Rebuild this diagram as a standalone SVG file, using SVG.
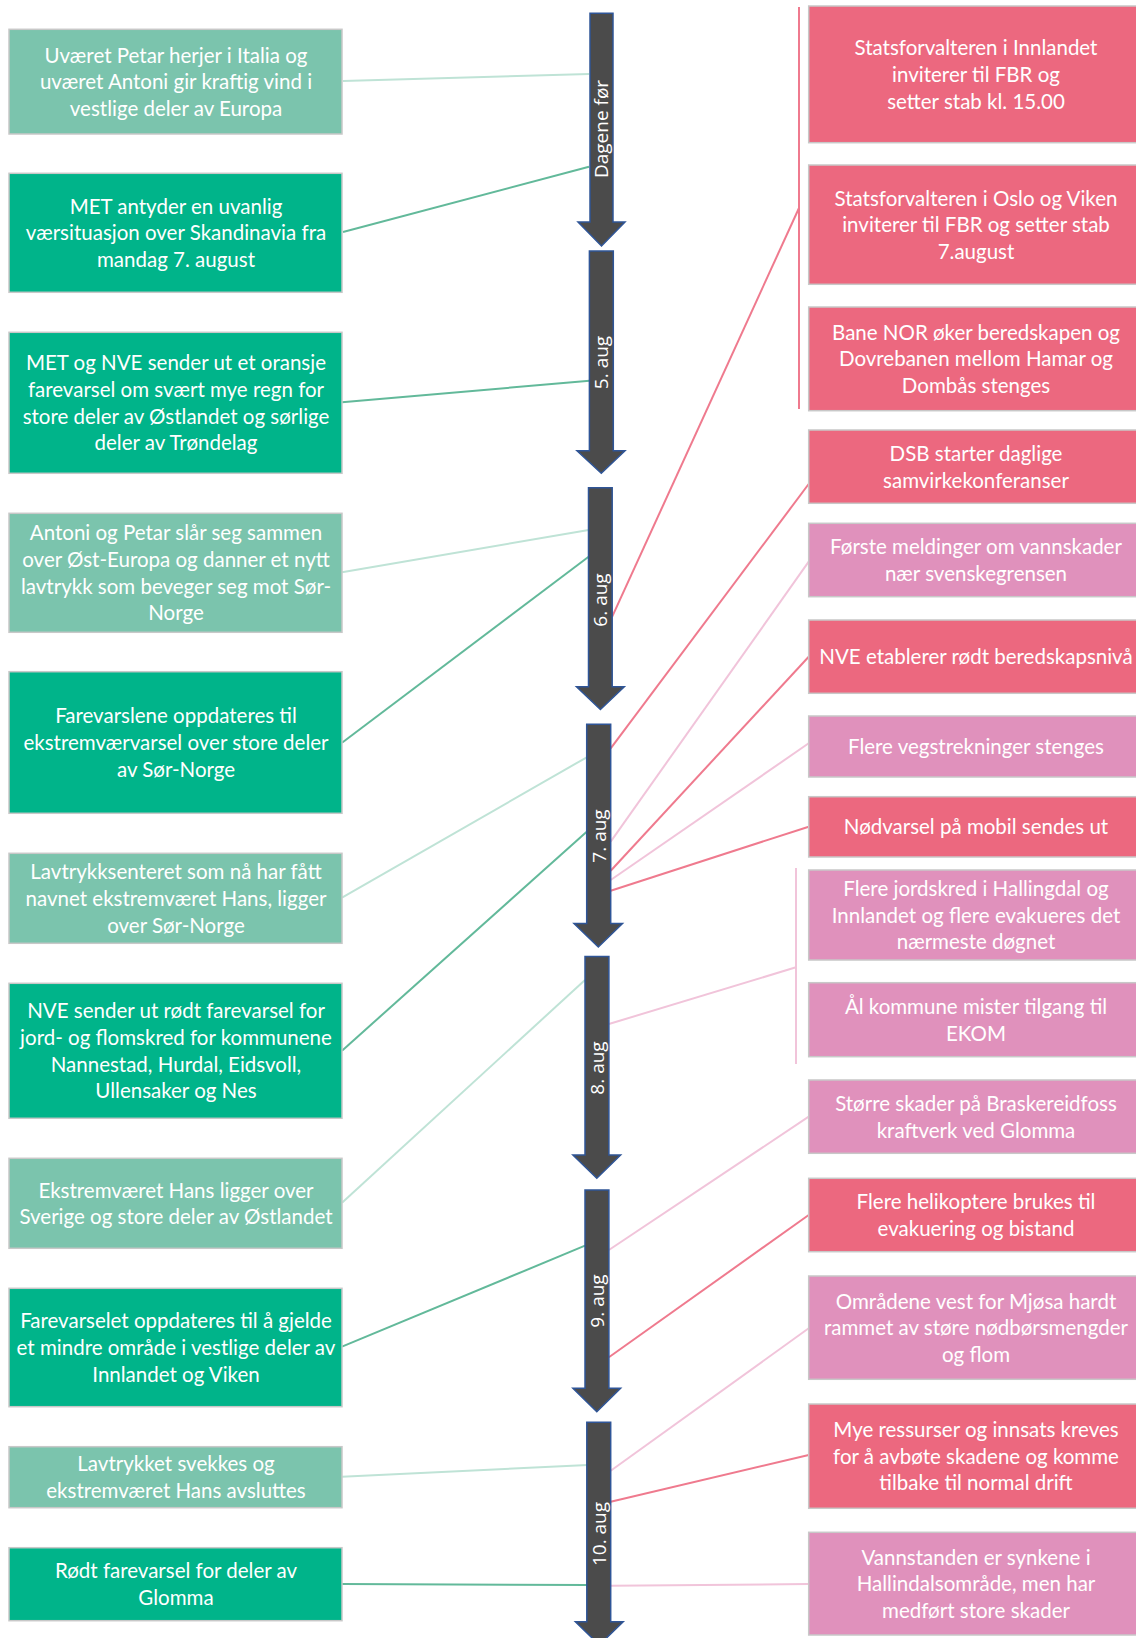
<svg xmlns="http://www.w3.org/2000/svg" width="1136" height="1638" viewBox="0 0 1136 1638">
<style>
.box{stroke:#C8C8C8;stroke-width:1.5}
.dg{fill:#00B48A}.lg{fill:#7BC4AD}.rd{fill:#EC687F}.pk{fill:#E091BC}
.bt{font-family:Lato,"Liberation Sans",sans-serif;font-size:20.5px;fill:#FFFFFF;text-anchor:middle}
.arrow{fill:#4B4B4B;stroke:#2F5597;stroke-width:1.5;stroke-linejoin:miter}
.at{font-family:"Open Sans","DejaVu Sans",sans-serif;font-size:19px;fill:#FFFFFF;text-anchor:middle}
.c{fill:none;stroke-width:2}
.cg{stroke:#62B99A}.clg{stroke:#BFE3D6}.cr{stroke:#EF7A8E}.cp{stroke:#F1C4DA}
</style>
<rect width="1136" height="1638" fill="#FFFFFF"/>
<g id="connectors">
<line class="c clg" x1="343" y1="81" x2="589" y2="74"/>
<line class="c cg" x1="343" y1="232" x2="589" y2="166.7"/>
<line class="c cg" x1="342" y1="402.3" x2="589.5" y2="380.7"/>
<line class="c clg" x1="342" y1="572.3" x2="588.6" y2="530"/>
<line class="c cg" x1="342" y1="742.7" x2="588.6" y2="556.7"/>
<line class="c clg" x1="342" y1="897.7" x2="586.7" y2="757.3"/>
<line class="c cg" x1="342" y1="1050.7" x2="586.7" y2="831.7"/>
<line class="c clg" x1="342" y1="1202.7" x2="585" y2="980"/>
<line class="c cg" x1="342" y1="1346.7" x2="585" y2="1245.7"/>
<line class="c clg" x1="342" y1="1476.7" x2="587.8" y2="1465"/>
<line class="c cg" x1="342" y1="1584" x2="587.8" y2="1585"/>
<line class="c cr" x1="799" y1="7" x2="799" y2="409"/>
<line class="c cr" x1="799" y1="208" x2="612.2" y2="616.7"/>
<line class="c cr" x1="808.7" y1="484" x2="610.7" y2="748.3"/>
<line class="c cp" x1="808.7" y1="561.7" x2="610.7" y2="841.7"/>
<line class="c cr" x1="808.7" y1="656.7" x2="610.7" y2="870.7"/>
<line class="c cp" x1="808.7" y1="743.3" x2="610.7" y2="880"/>
<line class="c cr" x1="808.7" y1="826.7" x2="610.7" y2="890.7"/>
<line class="c cp" x1="796" y1="868" x2="796" y2="1064"/>
<line class="c cp" x1="796" y1="967.3" x2="608.9" y2="1024"/>
<line class="c cp" x1="808.7" y1="1116.7" x2="608.9" y2="1250"/>
<line class="c cr" x1="808.7" y1="1215" x2="608.9" y2="1357.3"/>
<line class="c cp" x1="808.7" y1="1328.3" x2="610.7" y2="1470.7"/>
<line class="c cr" x1="808.7" y1="1455" x2="610.7" y2="1501.7"/>
<line class="c cp" x1="808.7" y1="1584" x2="610.7" y2="1585.7"/>
</g>
<g id="arrow-dagene-for">
<path class="arrow" d="M590,13.3H613V222H625L601.5,246L578,222H590Z"/>
<text class="at" transform="translate(608,129) rotate(-90)">Dagene før</text>
</g>
<g id="arrow-5-aug">
<path class="arrow" d="M589.4,251H613.3V450.7H625L601.3,473.3L577,450.7H589.4Z"/>
<text class="at" transform="translate(608,362.5) rotate(-90)">5. aug</text>
</g>
<g id="arrow-6-aug">
<path class="arrow" d="M588.5,487.7H612.2V686.7H624.3L600.4,709.5L576.5,686.7H588.5Z"/>
<text class="at" transform="translate(607,600) rotate(-90)">6. aug</text>
</g>
<g id="arrow-7-aug">
<path class="arrow" d="M586.7,724.3H610.7V923.5H622.5L598.3,947L574,923.5H586.7Z"/>
<text class="at" transform="translate(605.5,836) rotate(-90)">7. aug</text>
</g>
<g id="arrow-8-aug">
<path class="arrow" d="M585,956.5H608.9V1155H620.6L596.8,1178.3L572.9,1155H585Z"/>
<text class="at" transform="translate(604,1068) rotate(-90)">8. aug</text>
</g>
<g id="arrow-9-aug">
<path class="arrow" d="M585,1190H608.9V1388.3H620.6L596.8,1411.7L572.9,1388.3H585Z"/>
<text class="at" transform="translate(604,1301) rotate(-90)">9. aug</text>
</g>
<g id="arrow-10-aug">
<path class="arrow" d="M586.8,1422.3H610.7V1621.7H623.2L599.3,1645L575.4,1621.7H586.8Z"/>
<text class="at" transform="translate(605.5,1534) rotate(-90)">10. aug</text>
</g>
<g id="l1"><rect class="box lg" x="9" y="29.3" width="333" height="104.7"/>
<text class="bt" y="62.5"><tspan x="176">Uværet Petar herjer i Italia og</tspan><tspan x="176" dy="26.7">uværet Antoni gir kraftig vind i</tspan><tspan x="176" dy="26.7">vestlige deler av Europa</tspan></text></g>
<g id="l2"><rect class="box dg" x="9" y="173.3" width="333" height="119"/>
<text class="bt" y="213.6"><tspan x="176">MET antyder en uvanlig</tspan><tspan x="176" dy="26.7">værsituasjon over Skandinavia fra</tspan><tspan x="176" dy="26.7">mandag 7. august</tspan></text></g>
<g id="l3"><rect class="box dg" x="9" y="332.3" width="333" height="141"/>
<text class="bt" y="370.3"><tspan x="176">MET og NVE sender ut et oransje</tspan><tspan x="176" dy="26.7">farevarsel om svært mye regn for</tspan><tspan x="176" dy="26.7">store deler av Østlandet og sørlige</tspan><tspan x="176" dy="26.7">deler av Trøndelag</tspan></text></g>
<g id="l4"><rect class="box lg" x="9" y="513.3" width="333" height="119"/>
<text class="bt" y="540.3"><tspan x="176">Antoni og Petar slår seg sammen</tspan><tspan x="176" dy="26.7">over Øst-Europa og danner et nytt</tspan><tspan x="176" dy="26.7">lavtrykk som beveger seg mot Sør-</tspan><tspan x="176" dy="26.7">Norge</tspan></text></g>
<g id="l5"><rect class="box dg" x="9" y="671.7" width="333" height="141.6"/>
<text class="bt" y="723.3"><tspan x="176">Farevarslene oppdateres til</tspan><tspan x="176" dy="26.7">ekstremværvarsel over store deler</tspan><tspan x="176" dy="26.7">av Sør-Norge</tspan></text></g>
<g id="l6"><rect class="box lg" x="9" y="853.3" width="333" height="90"/>
<text class="bt" y="879.1"><tspan x="176">Lavtrykksenteret som nå har fått</tspan><tspan x="176" dy="26.7">navnet ekstremværet Hans, ligger</tspan><tspan x="176" dy="26.7">over Sør-Norge</tspan></text></g>
<g id="l7"><rect class="box dg" x="9" y="983.3" width="333" height="135"/>
<text class="bt" y="1018.3"><tspan x="176">NVE sender ut rødt farevarsel for</tspan><tspan x="176" dy="26.7">jord- og flomskred for kommunene</tspan><tspan x="176" dy="26.7">Nannestad, Hurdal, Eidsvoll,</tspan><tspan x="176" dy="26.7">Ullensaker og Nes</tspan></text></g>
<g id="l8"><rect class="box lg" x="9" y="1158.3" width="333" height="90"/>
<text class="bt" y="1197.5"><tspan x="176">Ekstremværet Hans ligger over</tspan><tspan x="176" dy="26.7">Sverige og store deler av Østlandet</tspan></text></g>
<g id="l9"><rect class="box dg" x="9" y="1288.3" width="333" height="118.4"/>
<text class="bt" y="1328.3"><tspan x="176">Farevarselet oppdateres til å gjelde</tspan><tspan x="176" dy="26.7">et mindre område i vestlige deler av</tspan><tspan x="176" dy="26.7">Innlandet og Viken</tspan></text></g>
<g id="l10"><rect class="box lg" x="9" y="1446.7" width="333" height="61"/>
<text class="bt" y="1471.4"><tspan x="176">Lavtrykket svekkes og</tspan><tspan x="176" dy="26.7">ekstremværet Hans avsluttes</tspan></text></g>
<g id="l11"><rect class="box dg" x="9" y="1547.7" width="333" height="73"/>
<text class="bt" y="1578.4"><tspan x="176">Rødt farevarsel for deler av</tspan><tspan x="176" dy="26.7">Glomma</tspan></text></g>
<g id="r1"><rect class="box rd" x="808.7" y="6" width="334" height="136.7"/>
<text class="bt" y="55.2"><tspan x="976">Statsforvalteren i Innlandet</tspan><tspan x="976" dy="26.7">inviterer til FBR og</tspan><tspan x="976" dy="26.7">setter stab kl. 15.00</tspan></text></g>
<g id="r2"><rect class="box rd" x="808.7" y="165" width="334" height="119.3"/>
<text class="bt" y="205.5"><tspan x="976">Statsforvalteren i Oslo og Viken</tspan><tspan x="976" dy="26.7">inviterer til FBR og setter stab</tspan><tspan x="976" dy="26.7">7.august</tspan></text></g>
<g id="r3"><rect class="box rd" x="808.7" y="307" width="334" height="103.7"/>
<text class="bt" y="339.7"><tspan x="976">Bane NOR øker beredskapen og</tspan><tspan x="976" dy="26.7">Dovrebanen mellom Hamar og</tspan><tspan x="976" dy="26.7">Dombås stenges</tspan></text></g>
<g id="r4"><rect class="box rd" x="808.7" y="430" width="334" height="73.3"/>
<text class="bt" y="460.8"><tspan x="976">DSB starter daglige</tspan><tspan x="976" dy="26.7">samvirkekonferanser</tspan></text></g>
<g id="r5"><rect class="box pk" x="808.7" y="523.3" width="334" height="73.4"/>
<text class="bt" y="554.2"><tspan x="976">Første meldinger om vannskader</tspan><tspan x="976" dy="26.7">nær svenskegrensen</tspan></text></g>
<g id="r6"><rect class="box rd" x="808.7" y="620" width="334" height="73.3"/>
<text class="bt" x="976" y="664.2">NVE etablerer rødt beredskapsnivå</text></g>
<g id="r7"><rect class="box pk" x="808.7" y="716" width="334" height="61"/>
<text class="bt" x="976" y="754">Flere vegstrekninger stenges</text></g>
<g id="r8"><rect class="box rd" x="808.7" y="796.7" width="334" height="60.3"/>
<text class="bt" x="976" y="834.4">Nødvarsel på mobil sendes ut</text></g>
<g id="r9"><rect class="box pk" x="808.7" y="870" width="334" height="90"/>
<text class="bt" y="895.8"><tspan x="976">Flere jordskred i Hallingdal og</tspan><tspan x="976" dy="26.7">Innlandet og flere evakueres det</tspan><tspan x="976" dy="26.7">nærmeste døgnet</tspan></text></g>
<g id="r10"><rect class="box pk" x="808.7" y="982.7" width="334" height="74"/>
<text class="bt" y="1013.9"><tspan x="976">Ål kommune mister tilgang til</tspan><tspan x="976" dy="26.7">EKOM</tspan></text></g>
<g id="r11"><rect class="box pk" x="808.7" y="1080" width="334" height="73.3"/>
<text class="bt" y="1110.8"><tspan x="976">Større skader på Braskereidfoss</tspan><tspan x="976" dy="26.7">kraftverk ved Glomma</tspan></text></g>
<g id="r12"><rect class="box rd" x="808.7" y="1178.3" width="334" height="73.4"/>
<text class="bt" y="1209.2"><tspan x="976">Flere helikoptere brukes til</tspan><tspan x="976" dy="26.7">evakuering og bistand</tspan></text></g>
<g id="r13"><rect class="box pk" x="808.7" y="1276" width="334" height="103.3"/>
<text class="bt" y="1308.5"><tspan x="976">Områdene vest for Mjøsa hardt</tspan><tspan x="976" dy="26.7">rammet av støre nødbørsmengder</tspan><tspan x="976" dy="26.7">og flom</tspan></text></g>
<g id="r14"><rect class="box rd" x="808.7" y="1404" width="334" height="104.3"/>
<text class="bt" y="1437"><tspan x="976">Mye ressurser og innsats kreves</tspan><tspan x="976" dy="26.7">for å avbøte skadene og komme</tspan><tspan x="976" dy="26.7">tilbake til normal drift</tspan></text></g>
<g id="r15"><rect class="box pk" x="808.7" y="1532.3" width="334" height="102.7"/>
<text class="bt" y="1564.5"><tspan x="976">Vannstanden er synkene i</tspan><tspan x="976" dy="26.7">Hallindalsområde, men har</tspan><tspan x="976" dy="26.7">medført store skader</tspan></text></g>
</svg>
